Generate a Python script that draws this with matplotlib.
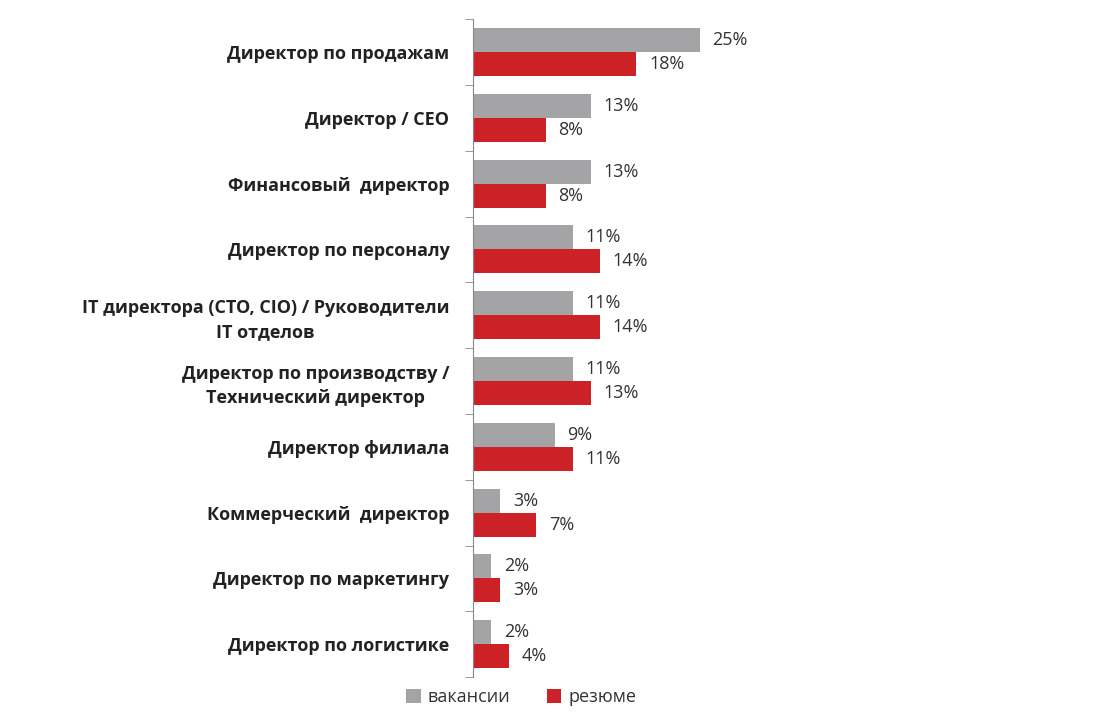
import matplotlib.pyplot as plt
import numpy as np

# categories top to bottom
categories = [
    "Директор по продажам",
    "Директор / CEO",
    "Финансовый  директор",
    "Директор по персоналу",
    "IT директора (CTO, CIO) / Руководители\nIT отделов",
    "Директор по производству /\nТехнический директор",
    "Директор филиала",
    "Коммерческий  директор",
    "Директор по маркетингу",
    "Директор по логистике",
]
vacancies = [25, 13, 13, 11, 11, 11, 9, 3, 2, 2]
resumes = [18, 8, 8, 14, 14, 13, 11, 7, 3, 4]

grey = "#a4a4a6"
red = "#cd2128"
txt = "#333333"

plt.rcParams['font.family'] = ['Open Sans', 'DejaVu Sans']

fig = plt.figure(figsize=(11, 7.25), dpi=100)
ax = fig.add_axes([0.43, 0.066, 0.52, 0.9076])

y = np.arange(len(categories))
h = 0.365
ax.barh(y - h / 2, vacancies, height=h, color=grey, label="вакансии")
ax.barh(y + h / 2, resumes, height=h, color=red, label="резюме")

for i in range(len(categories)):
    ax.text(vacancies[i] + 1.4, y[i] - h / 2, f"{vacancies[i]}%", va="center",
            ha="left", fontsize=13, color=txt)
    ax.text(resumes[i] + 1.4, y[i] + h / 2, f"{resumes[i]}%", va="center",
            ha="left", fontsize=13, color=txt)

ax.set_ylim(len(categories) - 0.5, -0.5)
ax.set_xlim(0, 0.52 * 1100 / 9.07)

ax.set_yticks(y)
ax.set_yticklabels(categories, fontsize=13, fontweight="bold", color="#222222",
                   multialignment="center", linespacing=1.45)
ax.tick_params(axis="y", which="major", length=0, pad=17)
ax.set_yticks(np.arange(len(categories) + 1) - 0.5, minor=True)
ax.tick_params(axis="y", which="minor", length=6, color="#888888")
ax.set_xticks([])

for s in ["top", "right", "bottom"]:
    ax.spines[s].set_visible(False)
ax.spines["left"].set_color("#888888")

leg = fig.legend(loc="center", bbox_to_anchor=(0.474, 0.038), ncol=2, frameon=False,
                 fontsize=13, handlelength=0.8, handleheight=0.8, handletextpad=0.4,
                 columnspacing=2.0)
for t in leg.get_texts():
    t.set_color(txt)

fig.savefig("out.png", dpi=100)
